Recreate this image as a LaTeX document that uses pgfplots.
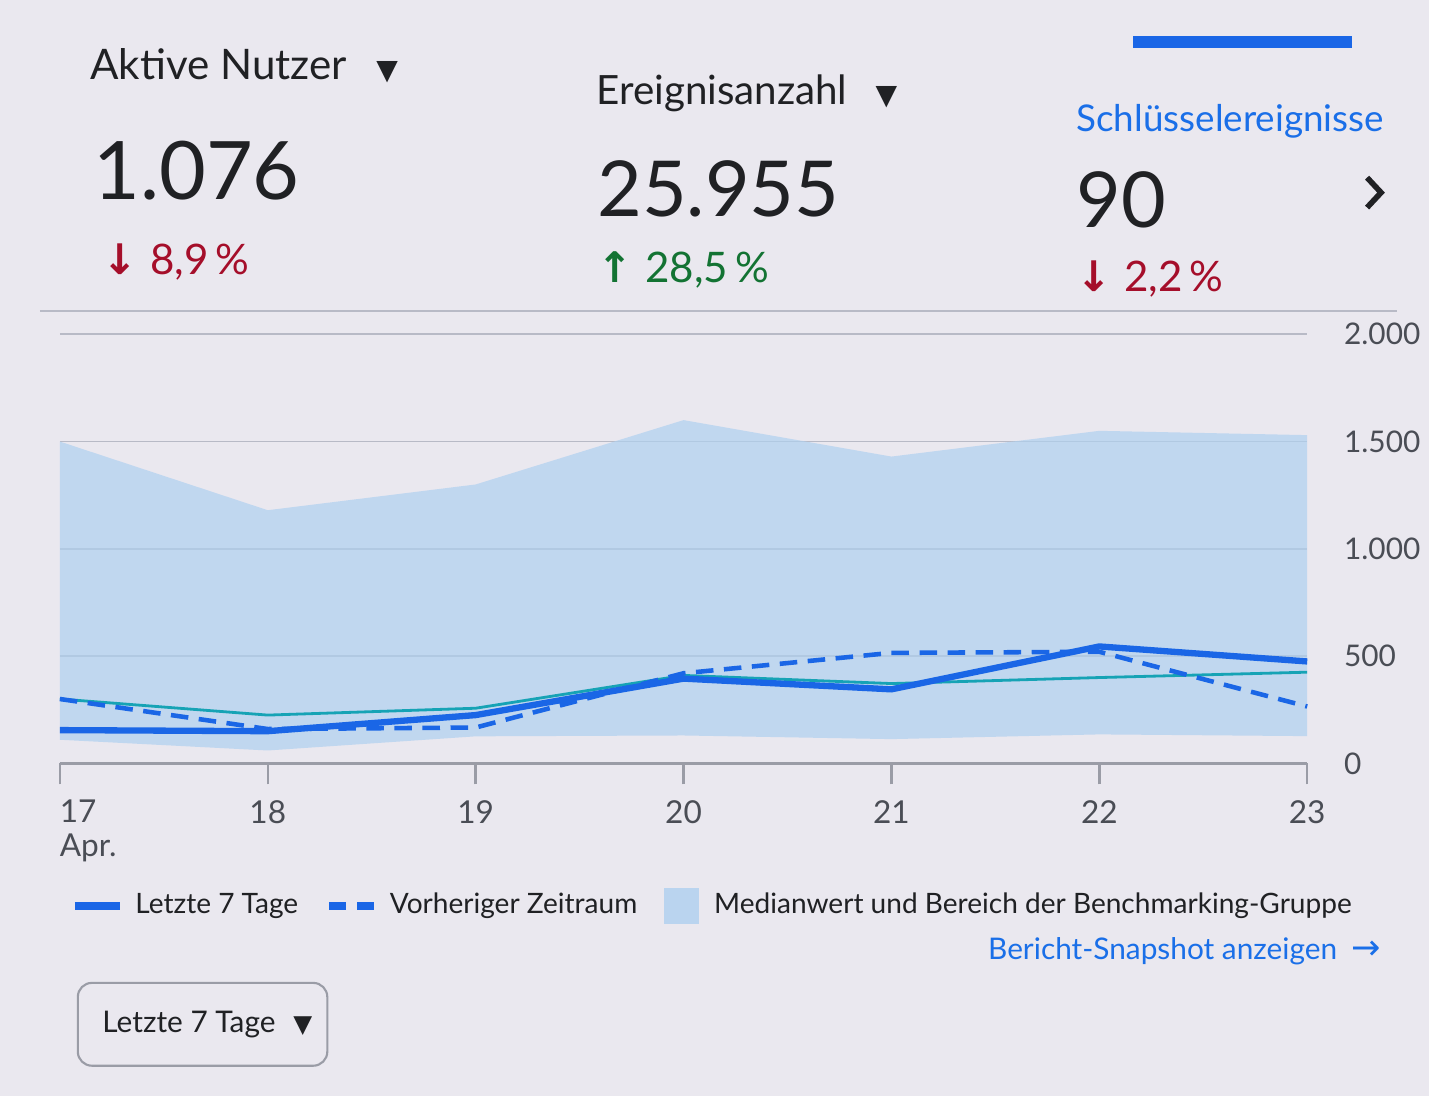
\documentclass[border=0pt]{standalone}
\usepackage{fontspec}
\setmainfont{Lato}
\newfontfamily\dejavu{DejaVu Sans}
\usepackage{pgfplots}
\pgfplotsset{compat=1.18}
\definecolor{bg}{HTML}{EAE8EF}
\definecolor{txt}{HTML}{202124}
\definecolor{lbl}{HTML}{4A4D55}
\definecolor{gablue}{HTML}{1A66E6}
\definecolor{linkblue}{HTML}{1A6FE8}
\definecolor{tealline}{HTML}{16A3B5}
\definecolor{band}{HTML}{AFD0EF}
\definecolor{gridgray}{HTML}{B8BAC6}
\definecolor{axisgray}{HTML}{9A9CA6}
\definecolor{negred}{HTML}{A50E2A}
\definecolor{posgreen}{HTML}{137333}
\begin{document}
\begin{tikzpicture}
\fill[bg] (0,0) rectangle (14.32,-10.98);
% tab indicator
\fill[gablue] (11.35,-0.36) rectangle (13.55,-0.48);
% KPI cards
\node[anchor=base west, inner sep=0, text=txt, font=\fontsize{12}{14}\selectfont] at (0.9,-0.8) {Aktive Nutzer\hspace{0.7em}{\dejavu\fontsize{8}{8}\selectfont ▼}};
\node[anchor=base west, inner sep=0, text=txt, font=\fontsize{23}{28}\selectfont] at (0.93,-2.0) {1.076};
\node[anchor=base west, inner sep=0, text=negred, font=\fontsize{12}{14}\selectfont] at (1.02,-2.75) {{\dejavu\bfseries ↓}\hspace{0.3em}8,9\,\%};

\node[anchor=base west, inner sep=0, text=txt, font=\fontsize{11.5}{14}\selectfont] at (5.97,-1.05) {Ereignisanzahl\hspace{0.7em}{\dejavu\fontsize{8}{8}\selectfont ▼}};
\node[anchor=base west, inner sep=0, text=txt, font=\fontsize{22}{28}\selectfont] at (5.98,-2.17) {25.955};
\node[anchor=base west, inner sep=0, text=posgreen, font=\fontsize{12}{14}\selectfont] at (5.98,-2.83) {{\dejavu\bfseries ↑}\hspace{0.3em}28,5\,\%};

\node[anchor=base west, inner sep=0, text=linkblue, font=\fontsize{10.5}{14}\selectfont] at (10.78,-1.32) {Schlüsselereignisse};
\node[anchor=base west, inner sep=0, text=txt, font=\fontsize{22}{28}\selectfont] at (10.78,-2.28) {90};
\node[anchor=base west, inner sep=0, text=negred, font=\fontsize{12}{14}\selectfont] at (10.78,-2.92) {{\dejavu\bfseries ↓}\hspace{0.3em}2,2\,\%};
\draw[txt, line width=1.6pt] (13.7,-1.78) -- (13.84,-1.93) -- (13.7,-2.08);
% separator
\draw[gridgray, line width=0.6pt] (0.4,-3.12) -- (14.0,-3.12);

\begin{axis}[
  at={(0.6cm,-7.65cm)}, anchor=south west,
  scale only axis, width=12.5cm, height=4.3cm,
  xmin=17, xmax=23, ymin=0, ymax=2000,
  axis x line=bottom, axis y line=right,
  x axis line style={-, draw=axisgray, line width=0.7pt},
  y axis line style={draw=none},
  xtick={17,18,19,20,21,22,23},
  xticklabels={\rlap{\shortstack[l]{17\\Apr.}},18,19,20,21,22,23},
  xtick align=outside,
  x tick style={draw=axisgray, line width=0.7pt},
  major tick length=6pt,
  ytick={0,500,1000,1500,2000},
  y tick style={draw=none},
  ymajorgrids, grid style={draw=gridgray, line width=0.5pt},
  tick label style={text=lbl, font=\fontsize{9}{11}\selectfont},
  xticklabel style={anchor=north, yshift=-1pt},
  yticklabel style={anchor=west, xshift=4pt, font=\fontsize{8.5}{10}\selectfont},
  clip=false,
  /pgf/number format/.cd, 1000 sep={.}, assume math mode=true,
]
\addplot[fill=band, fill opacity=0.7, draw=none, forget plot] coordinates {(17,1500) (18,1180) (19,1300) (20,1600) (21,1430) (22,1550) (23,1530) (23,127) (22,135) (21,113) (20,130) (19,126) (18,60) (17,110)} -- cycle;
\addplot[tealline, line width=0.8pt] coordinates {(17,300) (18,225) (19,257) (20,410) (21,372) (22,400) (23,425)};
\addplot[gablue, line width=1.3pt, dash pattern=on 5pt off 3pt] coordinates {(17,300) (18,160) (19,167) (20,420) (21,515) (22,520) (23,265)};
\addplot[gablue, line width=1.8pt, line join=round] coordinates {(17,155) (18,150) (19,225) (20,395) (21,345) (22,545) (23,475)};
\end{axis}

% legend
\draw[gablue, line width=2.5pt] (0.75,-9.08) -- (1.2,-9.08);
\node[anchor=west, inner sep=0, text=txt, font=\fontsize{8}{10}\selectfont] at (1.35,-9.08) {Letzte 7 Tage};
\draw[gablue, line width=2.5pt] (3.3,-9.08) -- (3.47,-9.08);
\draw[gablue, line width=2.5pt] (3.58,-9.08) -- (3.75,-9.08);
\node[anchor=west, inner sep=0, text=txt, font=\fontsize{8}{10}\selectfont] at (3.9,-9.08) {Vorheriger Zeitraum};
\fill[band, fill opacity=0.8] (6.65,-8.9) rectangle (7.0,-9.26);
\node[anchor=west, inner sep=0, text=txt, font=\fontsize{8}{10}\selectfont] at (7.15,-9.08) {Medianwert und Bereich der Benchmarking-Gruppe};
% link
\node[anchor=base east, inner sep=0, text=linkblue, font=\fontsize{8.5}{10}\selectfont] at (13.85,-9.62) {Bericht-Snapshot anzeigen\hspace{0.5em}{\dejavu\fontsize{10}{12}\selectfont →}};
% dropdown button
\draw[axisgray, line width=0.6pt, rounded corners=4pt] (0.78,-9.85) rectangle (3.28,-10.68);
\node[anchor=west, inner sep=0, text=txt, font=\fontsize{8.5}{11}\selectfont] at (1.02,-10.27) {Letzte 7 Tage\hspace{0.6em}{\dejavu\fontsize{7}{8}\selectfont ▼}};
\end{tikzpicture}
\end{document}
